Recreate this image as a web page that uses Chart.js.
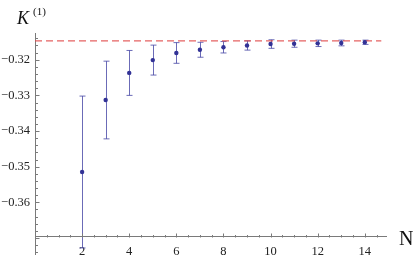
<!DOCTYPE html>
<html>
<head>
<meta charset="utf-8">
<script src="https://cdn.jsdelivr.net/npm/chart.js@4.4.1/dist/chart.umd.min.js"></script>
<style>
body { margin: 0; background: #fff; }
#wrap { width: 415px; height: 258px; position: relative; }
</style>
</head>
<body>
<div id="wrap"><canvas id="chart"></canvas></div>
<script>
// Values
const nValues = [2, 3, 4, 5, 6, 7, 8, 9, 10, 11, 12, 13, 14];
const kValues = [-0.3515, -0.3313, -0.3237, -0.3201, -0.3181, -0.3172, -0.3165, -0.3160, -0.3156, -0.3155, -0.3154, -0.3153, -0.3151];
const kErrors = [0.0213, 0.0109, 0.0063, 0.0042, 0.0029, 0.0021, 0.0016, 0.0013, 0.0012, 0.0010, 0.0009, 0.0008, 0.0006];
const limitValue = -0.3147;
const limitRange = [0, 14.7];
const xTicks = [2, 4, 6, 8, 10, 12, 14];
const yTicks = [-0.36, -0.35, -0.34, -0.33, -0.32];

const serif = "'Liberation Serif', 'DejaVu Serif', serif";
const axisColor = '#7a7a7a';

// Error bars go under the points
const errorBars = {
    id: 'errorBars',
    beforeDatasetsDraw(chart) {
        const { ctx, scales: { x, y } } = chart;
        ctx.save();
        ctx.strokeStyle = 'rgba(70, 70, 165, 0.8)';
        ctx.lineWidth = 1;
        nValues.forEach((n, i) => {
            const px = Math.round(x.getPixelForValue(n)) + 0.5;
            const top = y.getPixelForValue(kValues[i] + kErrors[i]);
            const bot = y.getPixelForValue(kValues[i] - kErrors[i]);
            ctx.beginPath();
            ctx.moveTo(px, top);
            ctx.lineTo(px, bot);
            ctx.moveTo(px - 3, top);
            ctx.lineTo(px + 3, top);
            ctx.moveTo(px - 3, bot);
            ctx.lineTo(px + 3, bot);
            ctx.stroke();
        });
        ctx.restore();
    }
};

// Inside tick marks (major and minor) and the axis titles
const axisExtras = {
    id: 'axisExtras',
    afterDraw(chart) {
        const { ctx, scales: { x, y }, chartArea } = chart;
        ctx.save();
        ctx.strokeStyle = axisColor;
        ctx.lineWidth = 1;

        // y ticks to the right of the axis
        const ax = Math.round(chartArea.left) + 0.5;
        ctx.beginPath();
        for (let k = -374; k <= -314; k += 2) {
            const v = k / 1000;
            const py = Math.round(y.getPixelForValue(v)) + 0.5;
            const len = (k % 10 === 0) ? 4 : 2.5;
            ctx.moveTo(ax, py);
            ctx.lineTo(ax + len, py);
        }
        ctx.stroke();

        // x ticks above the axis
        const ay = Math.round(y.getPixelForValue(x.options.position.y)) + 0.5;
        ctx.beginPath();
        for (let k = 1; k <= 29; k++) {
            const v = k / 2;
            const px = Math.round(x.getPixelForValue(v)) + 0.5;
            const len = (v % 2 === 0) ? 4 : 2.5;
            ctx.moveTo(px, ay);
            ctx.lineTo(px, ay - len);
        }
        ctx.stroke();

        // titles
        ctx.fillStyle = '#111';
        ctx.textBaseline = 'alphabetic';
        ctx.font = 'italic 18px ' + serif;
        ctx.fillText('K', 17, 24);
        ctx.font = '11px ' + serif;
        ctx.fillText('(1)', 33, 15);
        ctx.font = '20px ' + serif;
        ctx.fillText('N', 399, 245);
        ctx.restore();
    }
};

// Drop the label overhang padding so the plot area keeps its full height
function noScalePadding(scale) {
    scale.paddingTop = 0;
    scale.paddingBottom = 0;
    scale.paddingLeft = 0;
    scale.paddingRight = 0;
}

const ctx = document.getElementById('chart').getContext('2d');
new Chart(ctx, {
    type: 'scatter',
    data: {
        datasets: [
            {
                label: 'K',
                data: nValues.map((n, i) => ({ x: n, y: kValues[i] })),
                pointRadius: 2.2,
                pointBackgroundColor: 'rgb(50, 50, 150)',
                pointBorderWidth: 0,
                showLine: false
            },
            {
                type: 'line',
                label: 'limit',
                data: limitRange.map((n) => ({ x: n, y: limitValue })),
                borderColor: 'rgba(225, 70, 70, 0.85)',
                borderWidth: 1.4,
                borderDash: [7, 4],
                pointRadius: 0,
                fill: false
            }
        ]
    },
    options: {
        responsive: true,
        maintainAspectRatio: false,
        animation: false,
        layout: { padding: { left: 0, right: 29, top: 33, bottom: 2 } },
        plugins: { legend: { display: false }, tooltip: { enabled: false } },
        scales: {
            x: {
                type: 'linear',
                min: 0,
                max: 14.9,
                position: { y: -0.3697 },
                afterFit: (scale) => { scale.height = 0; noScalePadding(scale); },
                afterBuildTicks: (scale) => { scale.ticks = xTicks.map((v) => ({ value: v })); },
                grid: { display: false, drawTicks: false },
                border: { display: true, color: axisColor },
                ticks: {
                    autoSkip: false,
                    maxRotation: 0,
                    padding: 7,
                    color: '#222',
                    font: { family: serif, size: 12.5 }
                }
            },
            y: {
                type: 'linear',
                min: -0.3745,
                max: -0.3125,
                afterFit: (scale) => { scale.width = 35; noScalePadding(scale); },
                afterBuildTicks: (scale) => { scale.ticks = yTicks.map((v) => ({ value: v })); },
                grid: { display: false, drawTicks: false },
                border: { display: true, color: axisColor },
                ticks: {
                    autoSkip: false,
                    padding: 5,
                    color: '#222',
                    font: { family: serif, size: 12.5 },
                    callback: (v) => '\u2212' + Math.abs(v).toFixed(2)
                }
            }
        }
    },
    plugins: [errorBars, axisExtras]
});
</script>
</body>
</html>
